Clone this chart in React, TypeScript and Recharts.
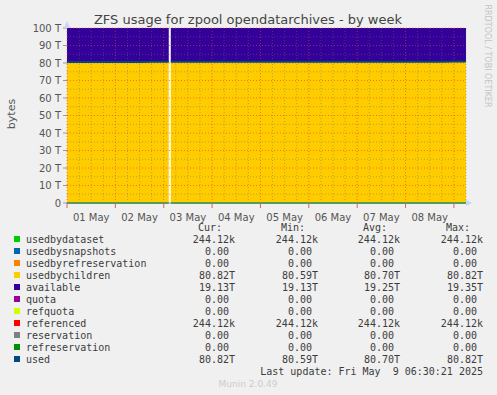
import React from 'react';
import { ComposedChart, Area, Line, XAxis, YAxis, CartesianGrid, ReferenceLine } from 'recharts';

// hours since 01 May 00:00
const hours = [
  0, 6, 12, 18, 24, 30, 36, 42, 48, 50.5, 51, 51.5, 54, 60, 66, 72, 78, 84, 90,
  96, 102, 108, 114, 120, 126, 132, 138, 144, 150, 156, 162, 168, 174, 180, 186,
  192, 195, 198,
];

// values in T
const usedbychildren = [
  80.59, 80.6, 80.61, 80.62, 80.63, 80.63, 80.64, 80.65, 80.66, 80.66, null, 80.66,
  80.67, 80.67, 80.68, 80.68, 80.69, 80.69, 80.7, 80.7, 80.71, 80.71, 80.72, 80.72,
  80.73, 80.73, 80.74, 80.74, 80.75, 80.75, 80.76, 80.76, 80.77, 80.77, 80.78,
  80.79, 80.82, 80.82,
];
const available = [
  19.35, 19.34, 19.33, 19.32, 19.31, 19.31, 19.3, 19.29, 19.28, 19.28, null, 19.28,
  19.27, 19.27, 19.26, 19.26, 19.25, 19.25, 19.24, 19.24, 19.23, 19.23, 19.22, 19.22,
  19.21, 19.21, 19.2, 19.2, 19.19, 19.19, 19.18, 19.18, 19.17, 19.17, 19.16, 19.15,
  19.13, 19.13,
];
const usedbydataset = 244.12e3 / 1e12;

const dayLabels = ['01 May', '02 May', '03 May', '04 May', '05 May', '06 May', '07 May', '08 May'];
const labelTicks = [12, 36, 60, 84, 108, 132, 156, 180];
const midnightTicks = [0, 24, 48, 72, 96, 120, 144, 168, 192];
const minorXTicks = [
  6, 12, 18, 30, 36, 42, 54, 60, 66, 78, 84, 90, 102, 108, 114,
  126, 132, 138, 150, 156, 162, 174, 180, 186, 198,
];
const yTicks = [0, 10, 20, 30, 40, 50, 60, 70, 80, 90, 100];
const minorYTicks = [5, 15, 25, 35, 45, 55, 65, 75, 85, 95];

const legendNames = [
  'usedbydataset', 'usedbysnapshots', 'usedbyrefreservation', 'usedbychildren',
  'available', 'quota', 'refquota', 'referenced', 'reservation', 'refreservation', 'used',
];
const legendColors = [
  '#00cc00', '#0066b3', '#ff8000', '#ffcc00', '#330099', '#990099', '#ccff00',
  '#ff0000', '#808080', '#008f00', '#00487d',
];
const curVals = ['244.12k', '0.00', '0.00', '80.82T', '19.13T', '0.00', '0.00', '244.12k', '0.00', '0.00', '80.82T'];
const minVals = ['244.12k', '0.00', '0.00', '80.59T', '19.13T', '0.00', '0.00', '244.12k', '0.00', '0.00', '80.59T'];
const avgVals = ['244.12k', '0.00', '0.00', '80.70T', '19.25T', '0.00', '0.00', '244.12k', '0.00', '0.00', '80.70T'];
const maxVals = ['244.12k', '0.00', '0.00', '80.82T', '19.35T', '0.00', '0.00', '244.12k', '0.00', '0.00', '80.82T'];

const data = hours.map((h, i) => ({
  t: h,
  usedbydataset: usedbychildren[i] == null ? null : usedbydataset,
  usedbychildren: usedbychildren[i],
  available: available[i],
  referenced: usedbychildren[i] == null ? null : usedbydataset,
  refreservation: usedbychildren[i] == null ? null : 0,
  used: usedbychildren[i],
}));

const SANS = '"DejaVu Sans", sans-serif';
const MONO = '"DejaVu Sans Mono", monospace';
const MINOR = 'rgba(110,110,110,0.45)';
const MAJOR = 'rgba(230,60,60,0.6)';

const axisTicks = [...midnightTicks, ...labelTicks].sort((a, b) => a - b);

const valueEnd = (s: string, end: number) => (s.endsWith('k') || s.endsWith('T') ? end : end - 6);

function TimeTick(props: any) {
  const { x, y, payload } = props;
  const idx = labelTicks.indexOf(payload.value);
  if (idx < 0) {
    return <line x1={x} x2={x} y1={y - 4} y2={y + 1} stroke="#e06060" strokeWidth={1} />;
  }
  return (
    <text x={x} y={y + 14} textAnchor="middle" fill="#555555" fontSize={10} fontFamily={SANS}>
      {dayLabels[idx]}
    </text>
  );
}

export default function App() {
  return (
    <div style={{ position: 'absolute', left: 0, top: 0, width: 497, height: 395, background: '#f0f0f0' }}>
      <ComposedChart
        width={497}
        height={395}
        data={data}
        margin={{ top: 28, right: 31, bottom: 172, left: 27 }}
      >
        <CartesianGrid fill="#ffffff" horizontal={false} vertical={false} />
        <XAxis
          dataKey="t"
          type="number"
          domain={[0, 198]}
          ticks={axisTicks}
          interval={0}
          height={20}
          tickLine={false}
          tickSize={4}
          tickMargin={0}
          axisLine={{ stroke: '#aaaaaa' }}
          tick={<TimeTick />}
        />
        <YAxis
          type="number"
          domain={[0, 100]}
          ticks={yTicks}
          interval={0}
          width={40}
          tickFormatter={(v) => (v === 0 ? '0' : `${v} T`)}
          tickSize={4}
          tickMargin={2}
          tickLine={{ stroke: '#999999' }}
          axisLine={false}
          tick={{ fill: '#555555', fontSize: 10, fontFamily: SANS }}
        />
        <Area dataKey="usedbydataset" stackId="s" type="linear" fill="#00cc00" fillOpacity={1} stroke="none" isAnimationActive={false} />
        <Area dataKey="usedbychildren" stackId="s" type="linear" fill="#ffcc00" fillOpacity={1} stroke="none" isAnimationActive={false} />
        <Area dataKey="available" stackId="s" type="linear" fill="#330099" fillOpacity={1} stroke="none" isAnimationActive={false} />
        {minorXTicks.map((v) => (
          <ReferenceLine key={`mx${v}`} x={v} stroke={MINOR} strokeDasharray="1 2" zIndex={350} />
        ))}
        {minorYTicks.map((v) => (
          <ReferenceLine key={`my${v}`} y={v} stroke={MINOR} strokeDasharray="1 2" zIndex={350} />
        ))}
        {midnightTicks.map((v) => (
          <ReferenceLine key={`Mx${v}`} x={v} stroke={MAJOR} strokeDasharray="1 2" zIndex={360} />
        ))}
        {yTicks.slice(1).map((v) => (
          <ReferenceLine key={`My${v}`} y={v} stroke={MAJOR} strokeDasharray="1 2" zIndex={360} />
        ))}
        <Line dataKey="referenced" stroke="#ff0000" strokeWidth={1} dot={false} isAnimationActive={false} />
        <Line dataKey="refreservation" stroke="#008f00" strokeWidth={2} dot={false} isAnimationActive={false} />
        <Line dataKey="used" stroke="#00487d" strokeWidth={2} dot={false} isAnimationActive={false} />
      </ComposedChart>
      <svg width={497} height={395} style={{ position: 'absolute', left: 0, top: 0, pointerEvents: 'none' }}>
        <polygon points="466,200 472,203 466,206" fill="#c8d4f8" />
        <polygon points="64,28 67,21 70,28" fill="#c8d4f8" />
        <text x={248} y={24} textAnchor="middle" fontFamily={SANS} fontSize={13} fill="#444444">
          ZFS usage for zpool opendatarchives - by week
        </text>
        <text
          x={11}
          y={114}
          textAnchor="middle"
          dominantBaseline="central"
          fontFamily={SANS}
          fontSize={11}
          fill="#555555"
          transform="rotate(-90 11 114)"
        >
          bytes
        </text>
        <text
          x={487}
          y={56}
          textAnchor="middle"
          dominantBaseline="central"
          fontFamily={SANS}
          fontSize={8}
          fill="#c4c4c4"
          transform="rotate(90 487 56)"
        >
          RRDTOOL / TOBI OETIKER
        </text>
        <g fontFamily={MONO} fontSize={10} fill="#3c3c3c">
          <text x={222} y={231} textAnchor="end">Cur:</text>
          <text x={305} y={231} textAnchor="end">Min:</text>
          <text x={387} y={231} textAnchor="end">Avg:</text>
          <text x={470} y={231} textAnchor="end">Max:</text>
          {legendNames.map((name, i) => {
            const y = 243 + i * 12;
            return (
              <g key={name}>
                <rect x={14} y={y - 7} width={6} height={6} fill={legendColors[i]} />
                <text x={26} y={y}>{name}</text>
                <text x={valueEnd(curVals[i], 235)} y={y} textAnchor="end">{curVals[i]}</text>
                <text x={valueEnd(minVals[i], 318)} y={y} textAnchor="end">{minVals[i]}</text>
                <text x={valueEnd(avgVals[i], 400)} y={y} textAnchor="end">{avgVals[i]}</text>
                <text x={valueEnd(maxVals[i], 483)} y={y} textAnchor="end">{maxVals[i]}</text>
              </g>
            );
          })}
          <text x={483} y={375} textAnchor="end" xmlSpace="preserve" style={{ whiteSpace: 'pre' }}>
            {'Last update: Fri May  9 06:30:21 2025'}
          </text>
        </g>
        <text x={248} y={387} textAnchor="middle" fontFamily={SANS} fontSize={9} fill="#cccccc">
          Munin 2.0.49
        </text>
      </svg>
    </div>
  );
}
